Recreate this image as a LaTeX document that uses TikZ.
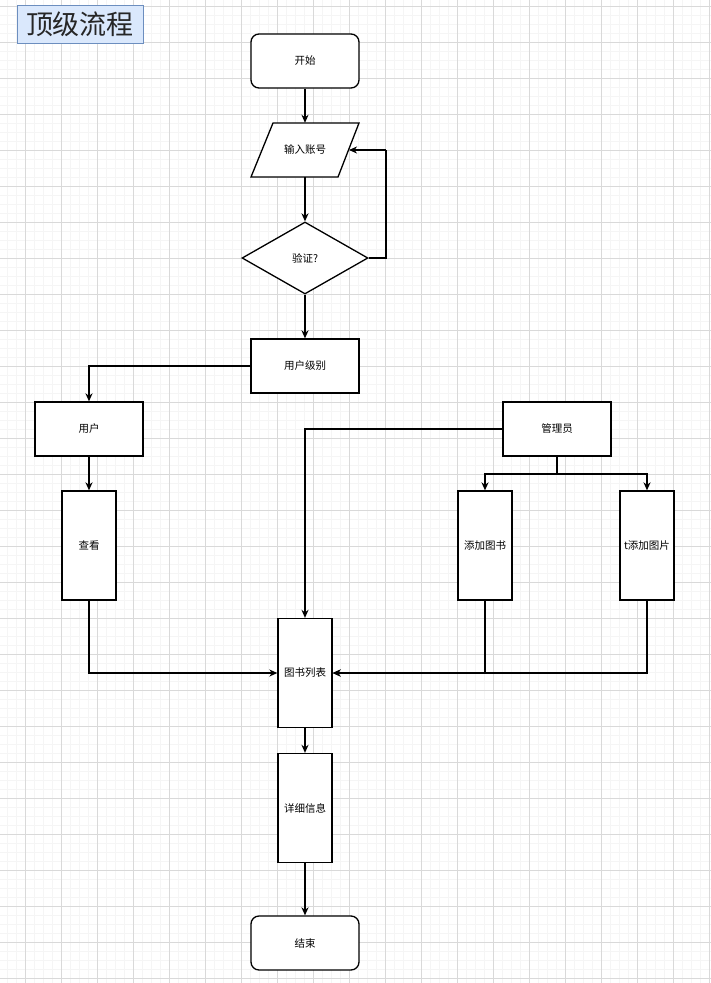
\documentclass[tikz,border=0pt]{standalone}
\usepackage{fontspec}
\setmainfont{Noto Sans CJK SC}
\usetikzlibrary{shapes.geometric,arrows.meta}
\definecolor{gridminor}{HTML}{F5F5F5}
\definecolor{gridmajor}{HTML}{D9D9D9}
\definecolor{titlefill}{HTML}{DAE8FC}
\definecolor{titledraw}{HTML}{6C8EBF}
\begin{document}
\begin{tikzpicture}[x=1pt,y=-1pt,
  boxnode/.style={draw=black, fill=white, line width=1.3pt, minimum width=108pt, minimum height=54pt, inner sep=0pt, font=\fontsize{10.5}{12}\selectfont},
  roundbox/.style={boxnode, rounded corners=8pt},
  tallbox/.style={boxnode, minimum width=54pt, minimum height=109pt},
  decbox/.style={draw=black, fill=white, line width=1.3pt, diamond, aspect=1.75, minimum width=126pt, minimum height=72pt, inner sep=0pt, font=\fontsize{10.5}{12}\selectfont},
  plainnode/.style={minimum width=87pt, minimum height=54pt, inner sep=0pt, font=\fontsize{10.5}{12}\selectfont},
  arr/.style={draw=black, line width=1.3pt, -{Stealth[length=8pt,width=7pt,inset=2.5pt]}},
  ln/.style={draw=black, line width=1.3pt},
  titlebox/.style={draw=titledraw, fill=titlefill, line width=1pt, minimum width=126pt, minimum height=38pt, inner sep=0pt, font=\fontsize{27}{30}\selectfont}
]
\useasboundingbox (0,0) rectangle (711,983);
\fill[white] (0,0) rectangle (711,983);
% grid
\foreach \i in {0,...,78} \draw[gridminor, line width=0.8pt] ({7+9*\i},0) -- ({7+9*\i},983);
\foreach \j in {0,...,108} \draw[gridminor, line width=0.8pt] (0,{6+9*\j}) -- (711,{6+9*\j});
\foreach \i in {0,...,19} \draw[gridmajor, line width=0.8pt] ({25+36*\i},0) -- ({25+36*\i},983);
\foreach \j in {0,...,27} \draw[gridmajor, line width=0.8pt] (0,{6+36*\j}) -- (711,{6+36*\j});

% title
\node[titlebox] (title) at (80,24) {\color{black!85}顶级流程};

% nodes
\node[roundbox] (start) at (305,61) {开始};
\draw[ln, fill=white] (273,123) -- (359,123) -- (338,177) -- (251,177) -- cycle;
\node[plainnode] (inp) at (305,150) {输入账号};
\coordinate (inpR) at (349,150);
\coordinate (loopc) at (386,150);
\node[decbox] (ver) at (305,258) {验证?};
\node[boxnode] (level) at (305,366) {用户级别};
\node[boxnode] (user) at (89,429) {用户};
\node[tallbox] (view) at (89,545.5) {查看};
\node[boxnode] (admin) at (557,429) {管理员};
\coordinate (split) at (557,474);
\node[tallbox] (addbook) at (485,545.5) {添加图书};
\node[tallbox] (addpic) at (647,545.5) {t添加图片};
\node[tallbox] (list) at (305,673) {图书列表};
\node[tallbox] (detail) at (305,808) {详细信息};
\node[roundbox] (end) at (305,943) {结束};

% connectors
\draw[arr] (start.south) -- (inp.north);
\draw[arr] (inp.south) -- (ver.north);
\draw[ln] (ver.east) -| (loopc);
\draw[arr] (loopc) -- (inpR);
\draw[arr] (ver.south) -- (level.north);
\draw[arr] (level.west) -| (user.north);
\draw[arr] (user.south) -- (view.north);
\draw[arr] (admin.west) -| (list.north);
\draw[ln] (admin.south) -- (split);
\draw[arr] (split) -| (addbook.north);
\draw[arr] (split) -| (addpic.north);
\draw[arr] (view.south) |- (list.west);
\draw[arr] (addbook.south) |- (list.east);
\draw[arr] (addpic.south) |- (list.east);
\draw[arr] (list.south) -- (detail.north);
\draw[arr] (detail.south) -- (end.north);
\end{tikzpicture}
\end{document}
